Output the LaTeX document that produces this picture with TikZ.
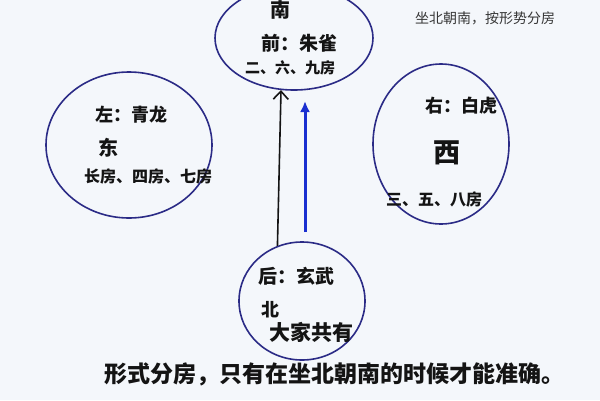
\documentclass[tikz,border=0pt]{standalone}
\usepackage{fontspec}
\newfontfamily\cjk{Noto Sans CJK SC}
\usetikzlibrary{shapes.geometric,arrows.meta}
\definecolor{paper}{HTML}{F4F7FB}
\definecolor{ink}{HTML}{141414}
\definecolor{pen}{HTML}{2B2B86}
\definecolor{bluepen}{HTML}{1A2FD0}

\begin{document}
\begin{tikzpicture}
[x=1pt,y=-1pt,
 ring/.style={draw=pen,line width=1.6pt,ellipse,inner sep=0pt},
 hand/.style={text=ink,inner sep=0pt,font=\cjk\bfseries\fontsize{#1}{#1}\selectfont},
]
\useasboundingbox (0,0) rectangle (600,400);
\clip (0,0) rectangle (600,400);
\fill[paper] (0,0) rectangle (600,400);

% the four sides
\node[ring,minimum width=158pt,minimum height=104pt] (south) at (294,38) {};
\node[ring,minimum width=166pt,minimum height=146pt] (east) at (129,145) {};
\node[ring,minimum width=136pt,minimum height=160pt] (west) at (441,144) {};
\node[ring,minimum width=126pt,minimum height=118pt] (north) at (302,301) {};

\node[hand=20] (s1) at (280,10) {南};
\node[hand=19] (s2) at (299,43) {前：朱雀};
\node[hand=15] (s3) at (290,68) {二、六、九房};

\node[hand=18] (e1) at (131,115) {左：青龙};
\node[hand=20] (e2) at (108,148) {东};
\node[hand=16] (e3) at (148,177) {长房、四房、七房};

\node[hand=18] (w1) at (461,106) {右：白虎};
\node[hand=27] (w2) at (447,153) {西};
\node[hand=16] (w3) at (434,200) {三、五、八房};

\node[hand=19] (n1) at (296,276) {后：玄武};
\node[hand=18] (n2) at (270,310) {北};
\node[hand=21] (n3) at (311,332) {大家共有};

\node[hand=23] (note) at (334,374) {形式分房，只有在坐北朝南的时候才能准确。};
\node[text=ink!85,inner sep=0pt,font=\cjk\fontsize{14}{14}\selectfont] (title) at (485,18) {坐北朝南，按形势分房};

\coordinate (bluetail) at (305,232);
\coordinate (bluehead) at (305,101);

\draw[ink,line width=1.6pt,-{Straight Barb[length=8pt,width=15pt]}] (north.114) -- (south.256);
\draw[bluepen,line width=3pt,-{Latex[length=11pt,width=10pt]}] (bluetail) -- (bluehead);
\end{tikzpicture}
\end{document}
